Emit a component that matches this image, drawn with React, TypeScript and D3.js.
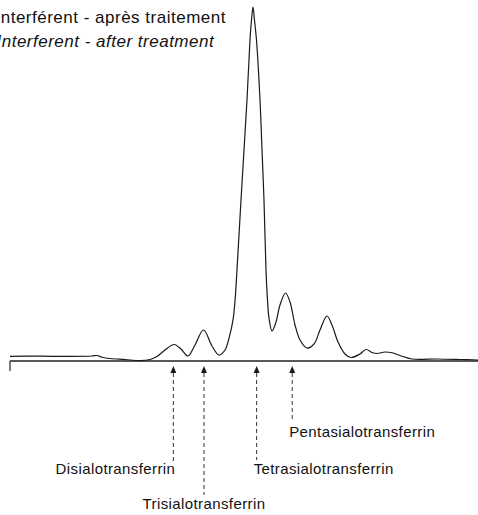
import React from "react";
import * as d3 from "d3";

// Retention position (arbitrary units, 0-100) and detector response (% of max)
const retention = [
  0.0, 6.41, 12.82, 17.52, 18.59, 19.66, 21.37, 24.57, 27.78, 29.91, 31.41, 33.12, 35.04, 36.54, 38.03,
  39.53, 41.35, 43.16, 44.66, 45.94, 47.01, 47.65, 48.08, 48.5, 49.36, 50.0, 50.64, 51.28, 51.6, 51.92,
  52.24, 52.67, 53.42, 53.85, 54.27, 54.7, 55.02, 55.34, 55.98, 56.84, 57.69, 58.87, 59.83, 60.9, 61.97,
  63.46, 64.96, 66.24, 67.74, 68.8, 70.09, 71.58, 72.86, 74.79, 76.07, 77.35, 78.42, 80.13, 81.62, 83.33,
  85.9, 91.24, 96.15, 100,
];
const response = [
  1.33, 1.36, 1.3, 1.41, 1.55, 1.07, 0.71, 0.42, 0.11, 0.42, 1.27, 3.11, 4.66, 3.39, 1.41,
  4.52, 8.76, 4.24, 1.69, 3.11, 7.6, 11.6, 17.0, 25.71, 45.48, 59.6, 73.73, 90.68, 96.3, 100,
  96.3, 90.68, 73.73, 59.6, 45.48, 25.71, 17.23, 12.15, 8.47, 11.02, 15.82, 19.21, 16.67, 10.17, 5.93,
  3.67, 4.8, 8.76, 12.71, 10.17, 5.37, 1.98, 0.99, 1.98, 3.25, 2.4, 2.12, 2.54, 2.32, 1.55,
  0.56, 0.56, 0.42, 0.28,
];

const peakNames = [
  "Disialotransferrin",
  "Trisialotransferrin",
  "Tetrasialotransferrin",
  "Pentasialotransferrin",
];
const peakPositions = [34.9, 41.45, 52.7, 60.3];

const titleLines = ["Interférent - après traitement", "Interferent - after treatment"];

const W = 478;
const H = 515;
const FONT = "'Liberation Sans', Arial, Helvetica, sans-serif";

export default function App() {
  const x = d3.scaleLinear().domain([0, 100]).range([10, 478]);
  const y = d3.scaleLinear().domain([0, 100]).range([361, 7]);

  const pts: [number, number][] = retention.map((r, i) => [r, response[i]]);
  const line = d3
    .line<[number, number]>()
    .x((d) => x(d[0]))
    .y((d) => y(d[1]))
    .curve(d3.curveCatmullRom.alpha(0.5));

  const axisY = y(0);
  const arrowTop = axisY + 5;
  // label layout per peak: arrow length, label anchor, label offset, baseline
  const layout = [
    { len: 96, anchor: "end", dx: 2, base: 474 },
    { len: 129, anchor: "middle", dx: 0, base: 509 },
    { len: 94, anchor: "start", dx: -3, base: 474 },
    { len: 54, anchor: "start", dx: -3, base: 437 },
  ];

  return (
    <svg
      width={W}
      height={H}
      style={{ position: "absolute", left: 0, top: 0, background: "#fff" }}
    >
      <text
        x={-4.5}
        y={23}
        fontFamily={FONT}
        fontSize={17}
        letterSpacing={0.5}
        fill="#111"
      >
        {titleLines[0]}
      </text>
      <text
        x={-3.5}
        y={47}
        fontFamily={FONT}
        fontSize={17}
        fontStyle="italic"
        letterSpacing={0.5}
        fill="#111"
      >
        {titleLines[1]}
      </text>

      {/* baseline axis */}
      <line x1={x(0)} x2={x(100)} y1={axisY} y2={axisY} stroke="#222" strokeWidth={1.4} />
      <line x1={x(0)} x2={x(0)} y1={axisY} y2={axisY + 10} stroke="#222" strokeWidth={1.2} />

      {/* chromatogram trace */}
      <path d={line(pts) || ""} fill="none" stroke="#1a1a1a" strokeWidth={1.2} />

      {peakNames.map((name, i) => {
        const px = x(peakPositions[i]);
        const L = layout[i];
        return (
          <g key={name}>
            <path
              d={`M${px},${arrowTop} L${px - 3},${arrowTop + 7} L${px + 3},${arrowTop + 7} Z`}
              fill="#1a1a1a"
            />
            <line
              x1={px}
              x2={px}
              y1={arrowTop + 7}
              y2={arrowTop + L.len}
              stroke="#333"
              strokeWidth={1}
              strokeDasharray="4,3"
            />
            <text
              x={px + L.dx}
              y={L.base}
              textAnchor={L.anchor as any}
              fontFamily={FONT}
              fontSize={15}
              letterSpacing={0.4}
              fill="#111"
            >
              {name}
            </text>
          </g>
        );
      })}
    </svg>
  );
}
